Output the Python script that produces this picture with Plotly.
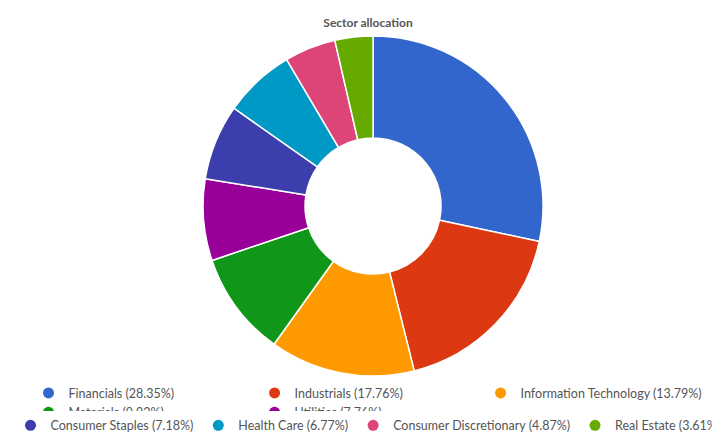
import plotly.graph_objects as go

sectors = ["Financials", "Industrials", "Information Technology", "Materials", "Utilities",
           "Consumer Staples", "Health Care", "Consumer Discretionary", "Real Estate"]
weights = [28.35, 17.76, 13.79, 9.92, 7.76, 7.18, 6.77, 4.87, 3.61]
colors = ["#3366CC", "#DC3912", "#FF9900", "#109618", "#990099",
          "#3B3EAC", "#0099C6", "#DD4477", "#66AA00"]

fig = go.Figure()
fig.add_trace(go.Pie(labels=sectors, values=weights, hole=0.4, sort=False,
                     direction="clockwise", rotation=0, textinfo="none",
                     marker=dict(colors=colors, line=dict(color="white", width=1.5)),
                     showlegend=False, hoverinfo="label+percent",
                     domain=dict(x=[0.014, 1], y=[0, 1])))
for i, (s, w, c) in enumerate(zip(sectors, weights, colors)):
    fig.add_trace(go.Scatter(x=[None], y=[None], mode="markers",
                             marker=dict(symbol="circle", size=11, color=c),
                             name=f"{s} ({w:.2f}%)",
                             legend="legend" if i < 5 else "legend2"))
lfont = dict(family="Lato, sans-serif", size=12.5, color="#555")
fig.update_layout(
    width=720, height=433, paper_bgcolor="white", plot_bgcolor="white",
    margin=dict(l=0, r=0, t=28, b=62),
    title=dict(text="<b>Sector allocation</b>", x=0.5, y=0.975, xanchor="center",
               font=dict(family="Lato, sans-serif", size=12, color="#555")),
    xaxis=dict(visible=False), yaxis=dict(visible=False),
    legend=dict(orientation="h", x=0.5, xanchor="center", y=-0.079, yanchor="middle",
                font=lfont, itemwidth=30),
    legend2=dict(orientation="h", x=0.5, xanchor="center", y=-0.146, yanchor="middle",
                 font=lfont, itemwidth=30),
)
fig.write_html("out.html")
